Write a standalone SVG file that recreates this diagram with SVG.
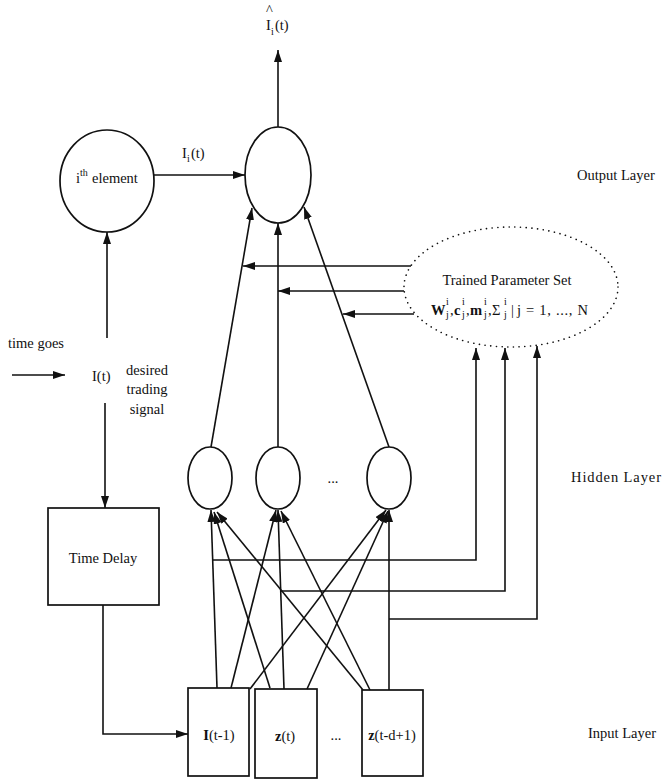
<svg xmlns="http://www.w3.org/2000/svg" width="662" height="783" viewBox="0 0 662 783">
<style>
text{font-family:"Liberation Serif","Times New Roman",serif;font-size:14.5px;fill:#111}
.n{fill:none;stroke:#111;stroke-width:1.7}
.c path{fill:none;stroke:#111;stroke-width:1.6}
.s{font-size:10px}
.dot{fill:none;stroke:#111;stroke-width:1.6;stroke-dasharray:0.1 5.6;stroke-linecap:round}
</style>
<defs>
<marker id="ah" viewBox="0 0 12 8" refX="12" refY="4" markerWidth="12" markerHeight="8" markerUnits="userSpaceOnUse" orient="auto">
<path d="M0,0 L12,4 L0,8 z" fill="#111"/>
</marker>
</defs>
<rect width="662" height="783" fill="#fff"/>

<g id="output-node"><ellipse class="n" cx="278" cy="175" rx="33" ry="48"/></g>
<g id="output-label">
<text x="266" y="15">^</text>
<text x="266" y="30">I</text><text class="s" x="271" y="35">i</text><text x="275" y="30">(t)</text>
</g>
<g id="ith-element"><ellipse class="n" cx="107" cy="181" rx="47" ry="51"/>
<text x="76" y="183">i</text><text class="s" x="80" y="176">th</text><text x="92" y="183">element</text></g>
<g id="ith-label"><text x="182" y="158">I</text><text class="s" x="187" y="162">i</text><text x="191" y="158">(t)</text></g>
<g id="time-goes"><text x="8" y="348">time goes</text></g>
<g id="it-node"><text x="92" y="381">I(t)</text></g>
<g id="desired-label"><text x="147" y="375" text-anchor="middle">desired</text><text x="147" y="394" text-anchor="middle">trading</text><text x="147" y="414" text-anchor="middle">signal</text></g>
<g id="time-delay"><rect class="n" x="48" y="508" width="111" height="97"/><text x="103" y="563" text-anchor="middle">Time Delay</text></g>

<g id="hidden-1"><ellipse class="n" cx="210" cy="478" rx="22" ry="31"/></g>
<g id="hidden-2"><ellipse class="n" cx="278" cy="478" rx="22" ry="31"/></g>
<g id="hidden-dots"><text x="333" y="483" text-anchor="middle">...</text></g>
<g id="hidden-3"><ellipse class="n" cx="389" cy="478" rx="22" ry="31"/></g>

<g id="input-1"><rect class="n" x="188" y="688" width="61" height="88"/><text x="219" y="740" text-anchor="middle"><tspan font-weight="bold">I</tspan>(t-1)</text></g>
<g id="input-2"><rect class="n" x="255" y="689" width="62" height="89"/><text x="285" y="741" text-anchor="middle"><tspan font-weight="bold">z</tspan>(t)</text></g>
<g id="input-dots"><text x="336" y="740" text-anchor="middle">...</text></g>
<g id="input-3"><rect class="n" x="362" y="690" width="61" height="86"/><text x="392" y="740" text-anchor="middle"><tspan font-weight="bold">z</tspan>(t-d+1)</text></g>

<g id="param-set"><ellipse class="dot" cx="511" cy="287" rx="107" ry="60"/>
<text x="507" y="285" text-anchor="middle" font-size="15">Trained Parameter Set</text>
<text x="431" y="315" font-weight="bold" font-size="13">W</text><text class="s" x="446" y="305">i</text><text class="s" x="446" y="318">j</text><text x="450" y="315">,</text>
<text x="454" y="315" font-weight="bold" font-size="14">c</text><text class="s" x="462" y="305">i</text><text class="s" x="462" y="318">j</text><text x="466" y="315">,</text>
<text x="470" y="315" font-weight="bold" font-size="13">m</text><text class="s" x="484" y="305">i</text><text class="s" x="484" y="318">j</text><text x="488" y="315">,</text>
<text x="492" y="315">Σ</text><text class="s" x="504" y="305">i</text><text class="s" x="504" y="318">j</text>
<text x="511" y="315">|</text><text x="517" y="315" textLength="71">j = 1, ..., N</text>
</g>

<g id="layer-labels">
<text x="577" y="180">Output Layer</text>
<text x="571" y="482" textLength="90">Hidden Layer</text>
<text x="588" y="738">Input Layer</text>
</g>

<g class="c" id="connectors">
<path d="M278,127 V50" marker-end="url(#ah)"/>
<path d="M154,175 H245" marker-end="url(#ah)"/>
<path d="M107,338 V232" marker-end="url(#ah)"/>
<path d="M12,375 H65" marker-end="url(#ah)"/>
<path d="M105,403 V508" marker-end="url(#ah)"/>
<path d="M103,605 V734 H188" marker-end="url(#ah)"/>
<path d="M211,447 L252,208" marker-end="url(#ah)"/>
<path d="M278,447 V223" marker-end="url(#ah)"/>
<path d="M389,447 L304,207" marker-end="url(#ah)"/>
<path d="M411,266 H243" marker-end="url(#ah)"/>
<path d="M404,291 H278" marker-end="url(#ah)"/>
<path d="M414,314 H343" marker-end="url(#ah)"/>
<path d="M213,560 H476 V348" marker-end="url(#ah)"/>
<path d="M281,591 H505 V348" marker-end="url(#ah)"/>
<path d="M389,619 H537 V346" marker-end="url(#ah)"/>
<path d="M217,688 L211,510" marker-end="url(#ah)"/>
<path d="M231,688 L276,510" marker-end="url(#ah)"/>
<path d="M250,689 L386,510" marker-end="url(#ah)"/>
<path d="M270,688 L214,512" marker-end="url(#ah)"/>
<path d="M284,689 L278,510" marker-end="url(#ah)"/>
<path d="M307,689 L388,511" marker-end="url(#ah)"/>
<path d="M363,690 L217,512" marker-end="url(#ah)"/>
<path d="M370,690 L281,511" marker-end="url(#ah)"/>
<path d="M389,690 V510" marker-end="url(#ah)"/>
</g>
</svg>
